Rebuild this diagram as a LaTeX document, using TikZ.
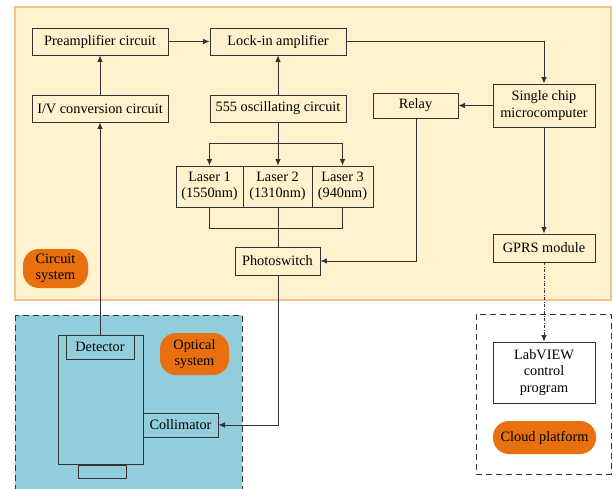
\documentclass[tikz,border=0pt]{standalone}
\usepackage{fontspec}
\setmainfont{Liberation Serif}
\usetikzlibrary{arrows.meta}
\definecolor{cream}{HTML}{FFF2CC}
\definecolor{orangeedge}{HTML}{F8BE8C}
\definecolor{pillorange}{HTML}{E8700F}
\definecolor{optblue}{HTML}{92CDDC}
\tikzset{
  blk/.style={draw=black!80, line width=0.8pt, inner sep=1pt, align=center, font=\fontsize{14.3}{16.5}\selectfont},
  pill/.style={fill=pillorange, rounded corners=16pt, inner sep=1pt, align=center, font=\fontsize{14.3}{16.5}\selectfont},
  conn/.style={draw=black!80, line width=0.8pt},
  arr/.style={conn, -{Latex[length=6.5pt,width=5.5pt]}},
}
\newcommand{\bx}[6]{\node[blk, minimum width=#4-#2, minimum height=#5-#3, #6] (#1) at ({(#2+#4)/2},{(#3+#5)/2})}
\begin{document}
\begin{tikzpicture}[x=1pt,y=-1pt]
\clip (0,0) rectangle (613,489);
\fill[white] (0,0) rectangle (613,489);
% regions
\draw[fill=cream, draw=orangeedge, line width=1.2pt] (15,7) rectangle (611,300);
\draw[fill=optblue, draw=black!80, line width=0.9pt, dash pattern=on 6pt off 4pt] (15,315) rectangle (242,500);
\draw[draw=black!80, line width=0.9pt, dash pattern=on 6pt off 4pt] (476,314) rectangle (611,474);
% circuit nodes
\bx{pre}{32}{28}{168}{55}{}{Preamplifier circuit};
\bx{lock}{210}{28}{346}{55}{}{Lock-in amplifier};
\bx{iv}{32}{95}{168}{122}{}{I/V conversion circuit};
\bx{osc}{210}{95}{346}{122}{}{555 oscillating circuit};
\bx{relay}{373}{93}{458}{118}{}{Relay};
\bx{mcu}{493}{84}{595}{127}{}{Single chip\\microcomputer};
\bx{l1}{176}{166}{243}{207}{}{Laser 1\\(1550nm)};
\bx{l2}{243}{166}{312}{207}{}{Laser 2\\(1310nm)};
\bx{l3}{312}{166}{373}{207}{}{Laser 3\\(940nm)};
\bx{ps}{235}{247}{320}{275}{}{Photoswitch};
\bx{gprs}{493}{234}{595}{262}{}{GPRS module};
\node[pill, minimum width=65pt, minimum height=39pt] (cs) at (55.5,268.5) {Circuit\\system};
% optical
\draw[conn] (58,335) rectangle (143,464);
\draw[conn] (78,465) rectangle (126,478);
\bx{det}{66}{335}{134}{359}{}{Detector};
\bx{col}{143}{413}{218}{437}{}{Collimator};
\node[pill, minimum width=69pt, minimum height=42pt] (os) at (194.5,354) {Optical\\system};
% cloud
\bx{lab}{493}{342}{595}{403}{fill=white}{LabVIEW\\control\\program};
\node[pill, minimum width=103pt, minimum height=33pt] (cp) at (544.5,437.5) {Cloud platform};
% connectors
\draw[arr] (det.north -| iv.south) -- (iv.south);
\draw[arr] (iv.north) -- (pre.south);
\draw[arr] (pre.east) -- (lock.west);
\draw[arr] (osc.north) -- (lock.south);
\draw[arr] (lock.east) -| (mcu.north);
\draw[arr] (mcu.west |- relay.east) -- (relay.east);
\coordinate (split) at (278,143);
\draw[conn] (osc.south) -- (split);
\draw[arr] (split) -| (l1.north);
\draw[arr] (split) -- (split |- l2.north);
\draw[arr] (split) -| (l3.north);
\coordinate (join) at (278,228);
\draw[conn] (l1.south) |- (join);
\draw[conn] (l3.south) |- (join);
\draw[conn] (join |- l2.south) -- (join |- ps.north);
\draw[arr] (relay.south -| 416,0) |- (ps.east);
\draw[arr] (join |- ps.south) |- (col.east);
\draw[arr] (mcu.south) -- (gprs.north);
\draw[arr, dash pattern=on 3pt off 1.5pt on 1pt off 1.5pt] (gprs.south) -- (lab.north);
\end{tikzpicture}
\end{document}
